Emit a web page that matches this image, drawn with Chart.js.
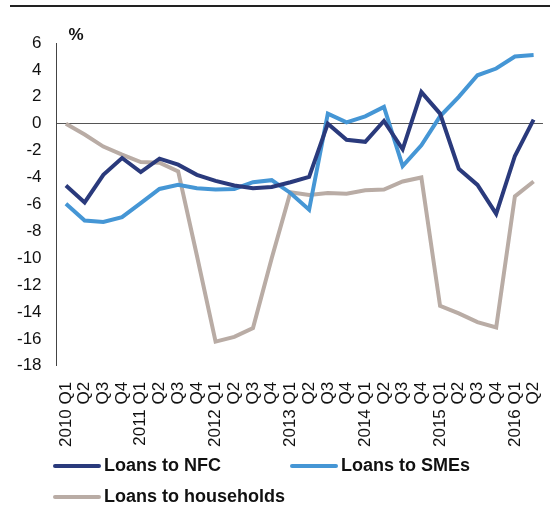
<!DOCTYPE html>
<html>
<head>
<meta charset="utf-8">
<script src="https://cdn.jsdelivr.net/npm/chart.js@4"></script>
<style>
  body { margin: 0; background: #fff; font-family: "Liberation Sans", Arial, sans-serif; }
  #wrap { position: relative; width: 550px; height: 506px; overflow: hidden; }
  #topline { position: absolute; left: 10px; right: 0; top: 5px; border-top: 2px solid #222; }
  #box { position: absolute; left: 0; top: 0; width: 562px; height: 457px; }
  .leg { position: absolute; display: flex; align-items: center; font-weight: bold; font-size: 18px; color: #111; }
  .leg span.ln { display: inline-block; width: 48px; height: 4px; border-radius: 2px; margin-right: 3px; }
</style>
</head>
<body>
<div id="wrap">
  <div id="topline"></div>
  <div id="box"><canvas id="chart"></canvas></div>
  <div id="legend"></div>
</div>
<script>
// quarters 2010 Q1 .. 2016 Q2
const quarters = ['2010 Q1', 'Q2', 'Q3', 'Q4', '2011 Q1', 'Q2', 'Q3', 'Q4', '2012 Q1', 'Q2', 'Q3', 'Q4',
  '2013 Q1', 'Q2', 'Q3', 'Q4', '2014 Q1', 'Q2', 'Q3', 'Q4', '2015 Q1', 'Q2', 'Q3', 'Q4', '2016 Q1', 'Q2'];

const loansNFC = [-4.6, -5.85, -3.8, -2.55, -3.6, -2.6, -3.05, -3.8, -4.25, -4.6, -4.8, -4.7,
  -4.35, -3.95, 0.0, -1.2, -1.35, 0.2, -1.9, 2.35, 0.75, -3.35, -4.55, -6.7, -2.4, 0.3];
const loansSMEs = [-5.95, -7.2, -7.3, -6.95, -5.9, -4.85, -4.55, -4.8, -4.9, -4.85, -4.35, -4.2,
  -5.15, -6.4, 0.75, 0.1, 0.55, 1.25, -3.15, -1.6, 0.55, 2.0, 3.6, 4.1, 5.0, 5.1];
const loansHouseholds = [0.0, -0.8, -1.7, -2.3, -2.85, -2.9, -3.55, -9.8, -16.2, -15.85, -15.2, -10.0,
  -5.1, -5.3, -5.15, -5.2, -4.95, -4.9, -4.3, -4.0, -13.55, -14.1, -14.75, -15.15, -5.4, -4.3];

const yTicks = [6, 4, 2, 0, -2, -4, -6, -8, -10, -12, -14, -16, -18];

const series = [
  { label: 'Loans to NFC', data: loansNFC, color: '#2a3a7c' },
  { label: 'Loans to SMEs', data: loansSMEs, color: '#4596d5' },
  { label: 'Loans to households', data: loansHouseholds, color: '#b9aca5' }
];

const font = { family: '"Liberation Sans", Arial, sans-serif', size: 17 };

// "%" unit label above the axis
const unitLabel = {
  id: 'unitLabel',
  afterDraw(chart) {
    const c = chart.ctx;
    c.save();
    c.font = 'bold 17px "Liberation Sans", Arial, sans-serif';
    c.fillStyle = '#111';
    c.textBaseline = 'alphabetic';
    c.fillText('%', chart.chartArea.left + 12, chart.chartArea.top - 3);
    c.restore();
  }
};

const ctx = document.getElementById('chart').getContext('2d');
const chart = new Chart(ctx, {
  type: 'line',
  data: {
    labels: quarters,
    datasets: series.map(s => ({
      label: s.label,
      data: s.data,
      borderColor: s.color,
      backgroundColor: s.color,
      borderWidth: 4,
      pointRadius: 0,
      tension: 0,
      borderJoinStyle: 'miter'
    }))
  },
  options: {
    responsive: true,
    maintainAspectRatio: false,
    animation: false,
    layout: { padding: { top: 43, right: 0, left: 2, bottom: 2 } },
    plugins: { legend: { display: false }, tooltip: { enabled: false } },
    scales: {
      x: {
        offset: true,
        border: { display: false },
        grid: { display: false },
        ticks: { color: '#111', font: font, minRotation: 90, maxRotation: 90, autoSkip: false, padding: 8 }
      },
      y: {
        min: -18, max: 6,
        afterBuildTicks(axis) { axis.ticks = yTicks.map(v => ({ value: v })); },
        border: { display: true, color: '#444', width: 1 },
        grid: {
          drawTicks: false,
          color: ctx => ctx.tick && ctx.tick.value === 0 ? '#555' : 'rgba(0,0,0,0)',
          lineWidth: 1
        },
        ticks: { color: '#111', font: font, padding: 15 }
      }
    }
  },
  plugins: [unitLabel]
});

// legend below the chart
const legendPos = [[53, 466], [290, 466], [53, 497]];
const legend = document.getElementById('legend');
series.forEach((s, i) => {
  const d = document.createElement('div');
  d.className = 'leg';
  d.style.left = legendPos[i][0] + 'px';
  d.style.top = (legendPos[i][1] - 11) + 'px';
  d.innerHTML = '<span class="ln" style="background:' + s.color + '"></span>' + s.label;
  legend.appendChild(d);
});
</script>
</body>
</html>
